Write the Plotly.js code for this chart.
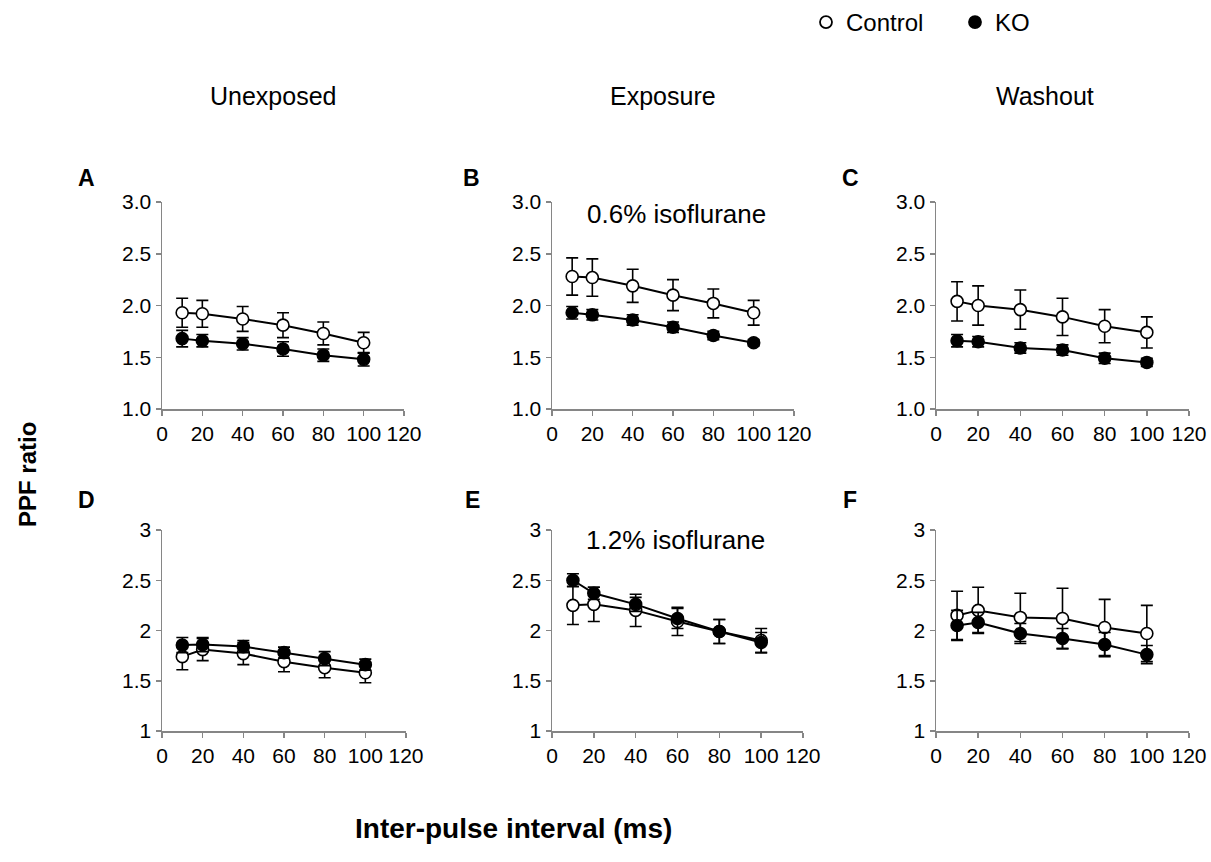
<!DOCTYPE html>
<html>
<head>
<meta charset="utf-8">
<script src="https://cdn.plot.ly/plotly-3.0.1.min.js"></script>
<style>html,body{margin:0;padding:0;background:#fff;}#chart{width:1211px;height:862px;}</style>
</head>
<body>
<div id="chart"></div>
<script>
// ---- Data ----
const intervals = [10, 20, 40, 60, 80, 100];
const xTickVals = [0, 20, 40, 60, 80, 100, 120];
const yTickVals = [1, 1.5, 2, 2.5, 3];
const yTickTextTop = ['1.0', '1.5', '2.0', '2.5', '3.0'];
const yTickTextBottom = ['1', '1.5', '2', '2.5', '3'];
const seriesNames = ['Control', 'KO'];
const columnTitles = ['Unexposed', 'Exposure', 'Washout'];
const panelLetters = ['A', 'B', 'C', 'D', 'E', 'F'];
const doseLabels = ['0.6% isoflurane', '1.2% isoflurane'];

// Panel A (unexposed, row 1)
const ctrlA = [1.93, 1.92, 1.87, 1.81, 1.73, 1.64];
const ctrlAErr = [0.14, 0.13, 0.12, 0.12, 0.11, 0.10];
const koA = [1.68, 1.66, 1.63, 1.58, 1.52, 1.48];
const koAErr = [0.08, 0.06, 0.06, 0.07, 0.06, 0.065];
// Panel B (0.6% exposure)
const ctrlB = [2.28, 2.27, 2.19, 2.10, 2.02, 1.93];
const ctrlBErr = [0.18, 0.18, 0.16, 0.15, 0.14, 0.12];
const koB = [1.93, 1.91, 1.86, 1.79, 1.71, 1.64];
const koBErr = [0.06, 0.05, 0.05, 0.05, 0.04, 0.03];
// Panel C (washout)
const ctrlC = [2.04, 2.00, 1.96, 1.89, 1.80, 1.74];
const ctrlCErr = [0.19, 0.19, 0.19, 0.18, 0.16, 0.15];
const koC = [1.66, 1.65, 1.59, 1.57, 1.49, 1.45];
const koCErr = [0.06, 0.05, 0.05, 0.05, 0.05, 0.04];
// Panel D (unexposed, row 2)
const ctrlD = [1.74, 1.81, 1.77, 1.69, 1.63, 1.58];
const ctrlDErr = [0.13, 0.11, 0.11, 0.10, 0.10, 0.10];
const koD = [1.855, 1.86, 1.84, 1.78, 1.72, 1.66];
const koDErr = [0.075, 0.07, 0.06, 0.055, 0.07, 0.055];
// Panel E (1.2% exposure)
const ctrlE = [2.25, 2.26, 2.20, 2.09, 1.99, 1.90];
const ctrlEErr = [0.19, 0.17, 0.16, 0.14, 0.12, 0.12];
const koE = [2.50, 2.37, 2.26, 2.12, 1.99, 1.88];
const koEErr = [0.065, 0.06, 0.07, 0.10, 0.12, 0.10];
// Panel F (washout, row 2)
const ctrlF = [2.15, 2.20, 2.13, 2.12, 2.03, 1.97];
const ctrlFErr = [0.24, 0.23, 0.24, 0.30, 0.28, 0.28];
const koF = [2.05, 2.08, 1.97, 1.92, 1.86, 1.76];
const koFErr = [0.15, 0.10, 0.10, 0.10, 0.12, 0.09];

// ---- Layout helpers ----
const W = 1211, H = 862;
const FONT = 'Liberation Sans, Arial, sans-serif';
const px = v => v / W;
const py = v => 1 - v / H;

// pixel boxes of each panel: [left, right, top, bottom]
const boxes = [
  [162, 404, 202, 409], [552, 794, 202, 409], [936, 1189, 202, 409],
  [162, 406, 530, 731], [552, 803, 530, 731], [936, 1189, 530, 731]
];
const panelData = [
  [ctrlA, ctrlAErr, koA, koAErr], [ctrlB, ctrlBErr, koB, koBErr], [ctrlC, ctrlCErr, koC, koCErr],
  [ctrlD, ctrlDErr, koD, koDErr], [ctrlE, ctrlEErr, koE, koEErr], [ctrlF, ctrlFErr, koF, koFErr]
];

const traces = [];
const layout = {
  width: W, height: H,
  margin: {l: 0, r: 0, t: 0, b: 0},
  paper_bgcolor: '#fff', plot_bgcolor: '#fff',
  font: {family: FONT, color: '#000', size: 21},
  showlegend: true,
  legend: {
    orientation: 'h', x: px(806), xanchor: 'left', y: 1, yanchor: 'top',
    font: {family: FONT, size: 24, color: '#000'},
    bgcolor: 'rgba(0,0,0,0)', entrywidth: 104, itemwidth: 30,
    tracegroupgap: 0
  },
  annotations: [],
  shapes: []
};

const axisGray = '#868686';
panelData.forEach((d, i) => {
  const n = i + 1;
  const xa = 'x' + (n === 1 ? '' : n), ya = 'y' + (n === 1 ? '' : n);
  const xKey = 'xaxis' + (n === 1 ? '' : n), yKey = 'yaxis' + (n === 1 ? '' : n);
  const b = boxes[i];
  layout[xKey] = {
    domain: [px(b[0]), px(b[1])], anchor: ya, range: [0, 120],
    tickmode: 'array', tickvals: xTickVals,
    showline: true, linecolor: axisGray, linewidth: 1.5,
    ticks: 'outside', ticklen: 5, tickwidth: 1.5, tickcolor: axisGray,
    showgrid: false, zeroline: false,
    tickfont: {family: FONT, size: 21, color: '#000'}
  };
  layout[yKey] = {
    domain: [py(b[3]), py(b[2])], anchor: xa, range: [1, 3],
    tickmode: 'array', tickvals: yTickVals, ticktext: i < 3 ? yTickTextTop : yTickTextBottom,
    showline: true, linecolor: axisGray, linewidth: 1.5,
    ticks: 'outside', ticklen: 5, tickwidth: 1.5, tickcolor: axisGray,
    showgrid: false, zeroline: false,
    tickfont: {family: FONT, size: 21, color: '#000'}
  };
  [[d[0], d[1], '#ffffff'], [d[2], d[3], '#000000']].forEach((s, k) => {
    traces.push({
      type: 'scatter', mode: 'lines+markers', x: intervals, y: s[0],
      xaxis: xa, yaxis: ya, name: seriesNames[k], showlegend: false,
      line: {color: '#000', width: 2},
      marker: {symbol: 'circle', size: 12, color: s[2], line: {color: '#000', width: 1.6}},
      error_y: {type: 'data', array: s[1], visible: true, color: '#000', thickness: 1.6, width: 6}
    });
  });
});

// legend entries
['#ffffff', '#000000'].forEach((c, k) => {
  traces.push({
    type: 'scatter', mode: 'markers', x: [null], y: [null], xaxis: 'x', yaxis: 'y',
    name: seriesNames[k], showlegend: true,
    marker: {symbol: 'circle', size: 12, color: c, line: {color: '#000', width: 1.8}}
  });
});

function ann(text, x, y, size, bold, extra) {
  layout.annotations.push(Object.assign({
    text: bold ? '<b>' + text + '</b>' : text, xref: 'paper', yref: 'paper',
    x: px(x), y: py(y), xanchor: 'center', yanchor: 'middle', showarrow: false,
    font: {family: FONT, size: size, color: '#000'}
  }, extra || {}));
}
// column titles
[[273, 96], [663, 96], [1045, 96]].forEach((p, i) => ann(columnTitles[i], p[0], p[1], 25, false));
// panel letters
[[87, 178], [471, 178], [850, 178], [87, 500], [472, 500], [850, 500]].forEach((p, i) => ann(panelLetters[i], p[0], p[1], 23, true));
// dose labels
ann(doseLabels[0], 677, 214, 26, false);
ann(doseLabels[1], 675, 540, 26, false);
// axis titles
ann('PPF ratio', 27, 475, 24, true, {textangle: -90});
ann('Inter-pulse interval (ms)', 513, 828, 28, true);

Plotly.newPlot('chart', traces, layout, {staticPlot: true, displayModeBar: false});
</script>
</body>
</html>
